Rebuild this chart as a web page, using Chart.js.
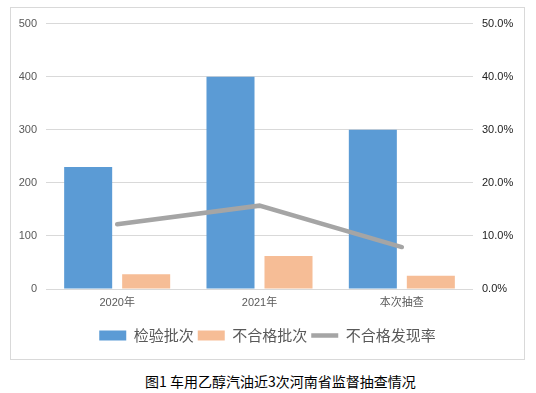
<!DOCTYPE html>
<html>
<head>
<meta charset="utf-8">
<script src="https://cdn.jsdelivr.net/npm/chart.js@4/dist/chart.umd.min.js"></script>
<style>
  html, body { margin: 0; padding: 0; background: #fff; }
  body { width: 536px; height: 393px; position: relative; overflow: hidden; }
  #caixa { position: absolute; left: 10px; top: 7px; width: 515px; height: 353px; border: 1px solid #d9d9d9; box-sizing: border-box; }
  #legenda { position: absolute; left: 145px; top: 374px; font: 14px "Noto Sans CJK SC", sans-serif; line-height: 14px; color: #000; white-space: nowrap; }
</style>
</head>
<body>
<div id="caixa"><canvas id="grafico" width="513" height="351"></canvas></div>
<div id="legenda">图1 车用乙醇汽油近3次河南省监督抽查情况</div>
<script>
// Dados do gráfico
const categorias = ["2020年", "2021年", "本次抽查"];
const lotesInspecionados = [230, 400, 300];   // 检验批次
const lotesReprovados = [28, 62, 25];         // 不合格批次
const taxaReprovacao = [0.122, 0.157, 0.079]; // 不合格发现率
const ticksEsquerda = [0, 100, 200, 300, 400, 500];
const ticksDireita = [0, 0.1, 0.2, 0.3, 0.4, 0.5];

const fonteEixo = { family: "'Liberation Sans', 'Noto Sans CJK SC', sans-serif", size: 11 };

new Chart(document.getElementById("grafico"), {
  type: "bar",
  data: {
    labels: categorias,
    datasets: [
      {
        label: "检验批次",
        data: lotesInspecionados,
        backgroundColor: "#5b9bd5",
        borderWidth: 0,
        pointStyle: "rect",
        yAxisID: "y",
        order: 1
      },
      {
        label: "不合格批次",
        data: lotesReprovados,
        backgroundColor: "#f6bd96",
        borderWidth: 0,
        pointStyle: "rect",
        yAxisID: "y",
        order: 1
      },
      {
        type: "line",
        label: "不合格发现率",
        data: taxaReprovacao,
        borderColor: "#a5a5a5",
        backgroundColor: "#a5a5a5",
        borderWidth: 4.5,
        borderCapStyle: "round",
        tension: 0,
        pointRadius: 0,
        pointStyle: "line",
        yAxisID: "y1",
        order: 0
      }
    ]
  },
  options: {
    responsive: false,
    animation: false,
    layout: { padding: { top: 14, bottom: 6, left: 0, right: 0 } },
    datasets: { bar: { categoryPercentage: 0.815, barPercentage: 0.828 } },
    plugins: {
      tooltip: { enabled: false },
      legend: {
        position: "bottom",
        labels: {
          usePointStyle: true,
          pointStyleWidth: 27,
          boxHeight: 10,
          padding: 4,
          color: "#595959",
          font: { family: "'Noto Sans CJK SC', sans-serif", size: 15 },
          sort: (a, b) => a.datasetIndex - b.datasetIndex
        }
      }
    },
    scales: {
      x: {
        grid: { display: false, drawTicks: false },
        border: { display: false },
        ticks: { color: "#595959", font: fonteEixo, padding: 7 },
        afterFit: s => { s.height = 35; }
      },
      y: {
        position: "left",
        min: 0,
        max: 500,
        afterBuildTicks: s => { s.ticks = ticksEsquerda.map(v => ({ value: v })); },
        grid: { color: "#d9d9d9", lineWidth: 1, drawTicks: false },
        border: { display: false },
        ticks: { color: "#595959", font: fonteEixo, padding: 9 },
        afterFit: s => { s.width = 35; }
      },
      y1: {
        position: "right",
        min: 0,
        max: 0.5,
        afterBuildTicks: s => { s.ticks = ticksDireita.map(v => ({ value: v })); },
        grid: { display: false, drawTicks: false },
        border: { display: false },
        ticks: {
          color: "#222",
          font: fonteEixo,
          padding: 9,
          callback: v => (v * 100).toFixed(1) + "%"
        },
        afterFit: s => { s.width = 51; }
      }
    }
  }
});
</script>
</body>
</html>
